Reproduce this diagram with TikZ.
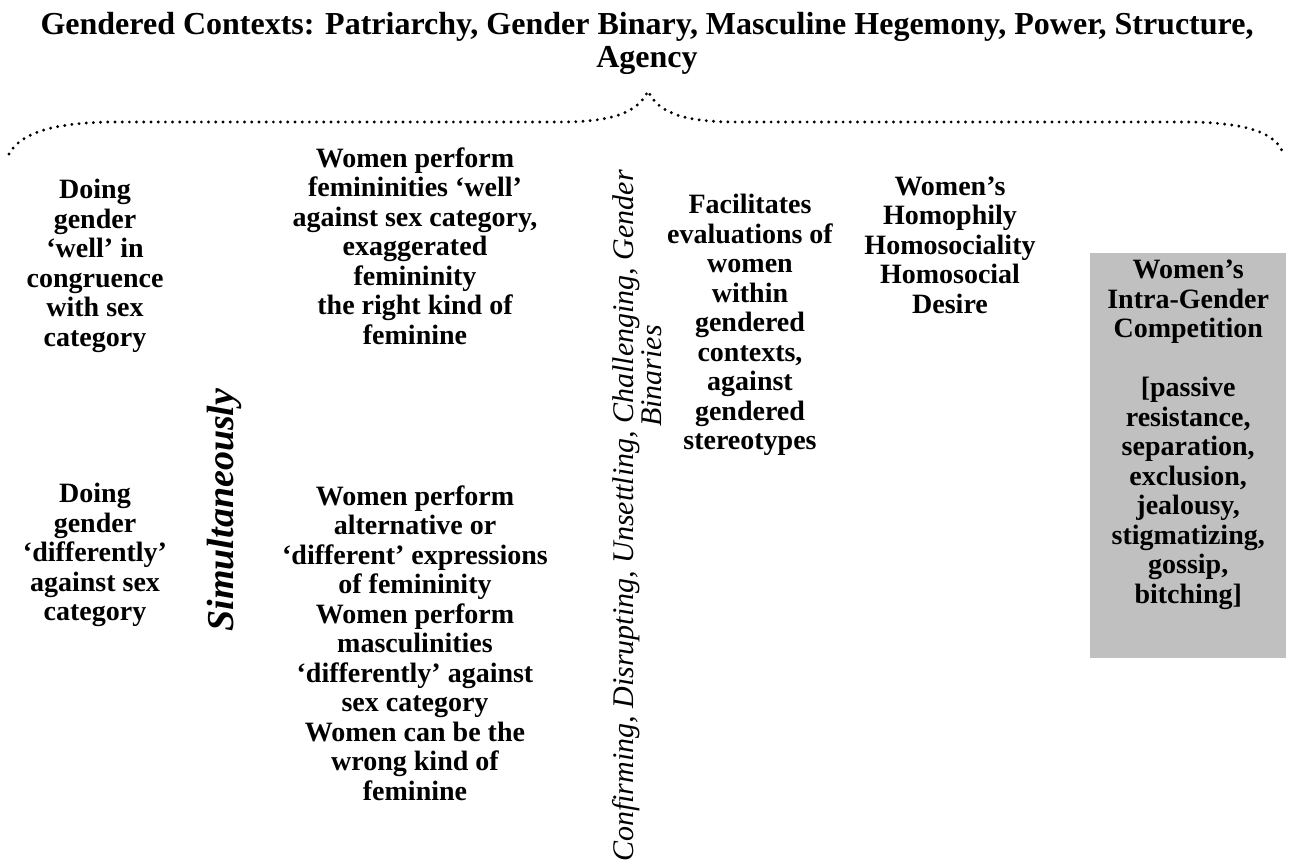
\documentclass[tikz,border=0pt]{standalone}
\usepackage{fontspec}
\setmainfont{Liberation Serif}
\usetikzlibrary{positioning}
\definecolor{boxgrey}{HTML}{C0C0C0}

\begin{document}
\begin{tikzpicture}[x=1pt, y=-1pt,
	coltext/.style={align=center, inner sep=0pt, font=\fontsize{28}{29.5}\selectfont\bfseries},
	titletext/.style={align=center, inner sep=0pt, font=\fontsize{32}{33}\selectfont\bfseries},
	simtext/.style={rotate=90, inner sep=0pt, font=\fontsize{38}{42}\selectfont\bfseries\itshape},
	conftext/.style={rotate=90, align=left, inner sep=0pt, font=\fontsize{30}{25}\selectfont\itshape},
	greybox/.style={rectangle, fill=boxgrey, inner sep=0pt},
	dotbrace/.style={line width=3.2pt, line cap=round, dash pattern=on 0pt off 7.2pt}
]
\useasboundingbox (0,0) rectangle (1295,860);

\node[titletext] (title) at (647,43) {Gendered Contexts: Patriarchy, Gender Binary, Masculine Hegemony, Power, Structure,\\Agency};

% dotted brace under the title
\draw[dotbrace] (9,154) .. controls (20,134) and (50,123) .. (110,122) -- (560,122)
	.. controls (614,122) and (638,112) .. (648,91)
	.. controls (658,112) and (682,122) .. (736,122) -- (1190,122)
	.. controls (1250,123) and (1276,134) .. (1283,153);

\node[coltext] (well) at (95,266) {Doing\\gender\\‘well’ in\\congruence\\with sex\\category};
\node[coltext] (diff) at (95,555) {Doing\\gender\\‘differently’\\against sex\\category};

\node[simtext] (simul) at (224,510) {Simultaneously};

\node[coltext] (femwell) at (415,246) {Women perform\\femininities ‘well’\\against sex category,\\exaggerated\\femininity\\the right kind of\\feminine};
\node[coltext] (femdiff) at (415,643) {Women perform\\alternative or\\‘different’ expressions\\of femininity\\Women perform\\masculinities\\‘differently’ against\\sex category\\Women can be the\\wrong kind of\\feminine};

\node[conftext, anchor=west] (confirm) at (637,862) {Confirming, Disrupting, Unsettling, Challenging, Gender\\\hspace*{435pt}Binaries};

\node[coltext] (evals) at (750,325) {Facilitates\\evaluations of\\women\\within\\gendered\\contexts,\\against\\gendered\\stereotypes};

\node[coltext] (homo) at (950,245) {Women’s\\Homophily\\Homosociality\\Homosocial\\Desire};

\node[greybox, minimum width=196pt, minimum height=405pt, anchor=north west] (compbox) at (1090,253) {};
\node[coltext, below=7pt of compbox.north] (comp) {Women’s\\Intra-Gender\\Competition\\[29.5pt][passive\\resistance,\\separation,\\exclusion,\\jealousy,\\stigmatizing,\\gossip,\\bitching]};

\end{tikzpicture}
\end{document}
